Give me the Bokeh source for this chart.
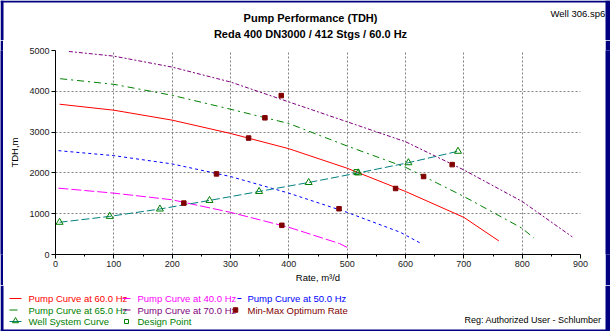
from bokeh.plotting import figure
from bokeh.layouts import column, row
from bokeh.models import FixedTicker, Range1d
from bokeh.core.properties import value
from bokeh.embed import file_html
from bokeh.resources import INLINE

# ---------------- data ----------------
q60 = [7, 100, 200, 300, 400, 500, 600, 700, 760]
h60 = [3683, 3537, 3293, 2967, 2593, 2114, 1545, 910, 333]

q40 = [5, 100, 200, 300, 400, 487, 505]
h40 = [1626, 1504, 1341, 1033, 667, 268, 138]

q50 = [5, 100, 200, 300, 400, 500, 591, 627]
h50 = [2545, 2423, 2220, 1911, 1504, 1033, 545, 268]

q65 = [8, 100, 200, 300, 400, 500, 600, 700, 800, 820]
h65 = [4309, 4171, 3902, 3561, 3211, 2659, 2138, 1423, 642, 406]

q70 = [23, 100, 200, 300, 400, 500, 600, 700, 800, 886]
h70 = [4976, 4862, 4593, 4228, 3740, 3252, 2764, 2073, 1300, 431]

q_well = [7, 93, 179, 264, 349, 434, 519, 605, 690]
h_well = [790, 935, 1115, 1325, 1545, 1765, 2000, 2250, 2530]

q_minmax = [220, 388, 276, 486, 331, 583, 359, 631, 387, 680]
h_minmax = [1260, 715, 1976, 1122, 2854, 1618, 3350, 1911, 3895, 2203]

q_design = [516]
h_design = [2020]

x_ticks = [0, 100, 200, 300, 400, 500, 600, 700, 800, 900]
x_minor = [50, 150, 250, 350, 450, 550, 650, 750, 850]
y_ticks = [0, 1000, 2000, 3000, 4000, 5000]

title = "Pump Performance (TDH)"
subtitle = "Reda 400 DN3000 / 412 Stgs / 60.0 Hz"
file_name = "Well 306.sp6"
reg_text = "Reg: Authorized User - Schlumber"
x_label = "Rate, m³/d"
y_label = "TDH,m"

legend_labels = ["Pump Curve at 60.0 Hz", "Pump Curve at 40.0 Hz", "Pump Curve at 50.0 Hz",
                 "Pump Curve at 65.0 Hz", "Pump Curve at 70.0 Hz", "Min-Max Optimum Rate",
                 "Well System Curve", "Design Point"]
legend_colors = ["#ff0000", "#ff00ff", "#0000ff",
                 "#008000", "#800080", "#800000",
                 "#008000", "#008000"]

FONT = "Liberation Sans"
NAVY = "#000080"
W, H = 610, 331
HEAD_H = 40          # canvas y 0..40
LEG_TOP = 285        # canvas y 285..331
MAIN_H = LEG_TOP - HEAD_H
BL, BR, BT, BB = 3, 5, 2, 2   # window border widths


def blank(width, height, xr, yr):
    f = figure(width=width, height=height, output_backend="svg", toolbar_location=None,
               x_range=Range1d(*xr), y_range=Range1d(*yr),
               x_axis_location=None, y_axis_location=None, min_border=0)
    f.grid.visible = False
    f.outline_line_color = None
    f.background_fill_color = "white"
    f.border_fill_color = "white"
    return f


# ---------------- header (titles) ----------------
ph = blank(W, HEAD_H, (0, W), (HEAD_H, 0))
ph.text(x=[310, 310], y=[17, 33], text=[title, subtitle], text_align="center",
        text_baseline="middle", text_font=value(FONT), text_font_size="11px",
        text_font_style="bold", text_color="black")
ph.text(x=[550], y=[13], text=[file_name], text_align="left", text_baseline="middle",
        text_font=value(FONT), text_font_size="9.5px", text_color="black")
ph.quad(left=[0, 0, W - BR], right=[W, BL, W], top=[0, 0, 0], bottom=[BT, HEAD_H, HEAD_H],
        fill_color=NAVY, line_color=None)

# ---------------- main plot ----------------
FL, FR, FT, FB = 55, 580, 50, 255   # frame edges in window pixels
p = figure(width=W - BL - BR, height=MAIN_H, output_backend="svg", toolbar_location=None,
           x_range=Range1d(x_ticks[0], x_ticks[-1]), y_range=Range1d(y_ticks[0], y_ticks[-1]),
           min_border_left=FL - BL, min_border_right=(W - BR) - FR,
           min_border_top=FT - HEAD_H, min_border_bottom=LEG_TOP - FB)
p.outline_line_color = None
p.background_fill_color = "white"
p.border_fill_color = "white"

p.xaxis.ticker = FixedTicker(ticks=x_ticks, minor_ticks=x_minor)
p.yaxis.ticker = FixedTicker(ticks=y_ticks, minor_ticks=[])
for ax in (p.xaxis, p.yaxis):
    ax.axis_line_color = "black"
    ax.major_tick_line_color = "black"
    ax.minor_tick_line_color = "black"
    ax.major_tick_out = 4
    ax.major_tick_in = 0
    ax.minor_tick_out = 2
    ax.minor_tick_in = 0
    ax.major_label_text_font = FONT
    ax.major_label_text_font_size = "9px"
    ax.major_label_text_color = "#1a1a1a"
    ax.axis_label_text_font = FONT
    ax.axis_label_text_font_size = "9.5px"
    ax.axis_label_text_font_style = "normal"
    ax.axis_label_text_color = "black"
    ax.major_label_standoff = 2
p.xaxis.axis_label = x_label
p.yaxis.axis_label = y_label
p.xaxis.axis_label_standoff = 2
p.yaxis.axis_label_standoff = 6

# library grid at the major ticks, darker grey dotted
p.xgrid.ticker = FixedTicker(ticks=x_ticks)
p.ygrid.ticker = FixedTicker(ticks=y_ticks)
p.grid.grid_line_color = "#808080"
p.grid.grid_line_alpha = 1.0
p.grid.grid_line_width = 1
p.grid.grid_line_dash = "2 2"

p.line(q70, h70, line_color="#800080", line_width=1, line_dash="4 2 2 2")
p.line(q65, h65, line_color="#008000", line_width=1, line_dash="7 4 2 4")
p.line(q60, h60, line_color="#ff0000", line_width=1)
p.line(q50, h50, line_color="#0000ff", line_width=1, line_dash="3 3")
p.line(q40, h40, line_color="#ff00ff", line_width=1, line_dash="10 3")
p.line(q_well, h_well, line_color="#008080", line_width=1, line_dash="8 3")
p.scatter(q_well, h_well, marker="triangle", size=7, fill_color=None, line_color="#008000")
p.scatter(q_design, h_design, marker="square", size=5, fill_color=None, line_color="#008000")
p.scatter(q_minmax, h_minmax, marker="square", size=4.5, fill_color="#800000", line_color="#800000")

p_left = blank(BL, MAIN_H, (0, 1), (0, 1))
p_left.background_fill_color = NAVY
p_left.border_fill_color = NAVY
p_right = blank(BR, MAIN_H, (0, 1), (0, 1))
p_right.background_fill_color = NAVY
p_right.border_fill_color = NAVY

# ---------------- legend / footer ----------------
pl = blank(W, H - LEG_TOP, (0, W), (H, LEG_TOP))
row_y = [298, 309.5, 321]
col_x = [28, 137, 247]
lx = [col_x[i % 3] for i in range(len(legend_labels))]
ly = [row_y[i // 3] for i in range(len(legend_labels))]
pl.text(x=lx, y=ly, text=legend_labels, text_color=legend_colors, text_align="left",
        text_baseline="middle", text_font=value(FONT), text_font_size="9.5px")
pl.segment(x0=[9, 122, 237, 9, 122, 9], x1=[21, 130, 241, 17, 130, 21],
           y0=[298, 298, 298, 309.5, 309.5, 321], y1=[298, 298, 298, 309.5, 309.5, 321],
           line_color=["#ff0000", "#ff00ff", "#0000ff", "#008000", "#800080", "#008080"],
           line_width=1)
pl.scatter([235], [309.5], marker="square", size=4.5, fill_color="#800000", line_color="#800000")
pl.scatter([15], [320.5], marker="triangle", size=6, fill_color=None, line_color="#008000")
pl.scatter([126], [321], marker="square", size=4, fill_color=None, line_color="#008000")
pl.text(x=[464], y=[319], text=[reg_text], text_align="left", text_baseline="middle",
        text_font=value(FONT), text_font_size="9px", text_color="black")
pl.quad(left=[0, 0, W - BR], right=[W, BL, W], top=[H - BB, LEG_TOP, LEG_TOP], bottom=[H, H, H],
        fill_color=NAVY, line_color=None)

layout = column(ph, row(p_left, p, p_right, spacing=0), pl, spacing=0)

open("out.html", "w").write(file_html(layout, INLINE))
